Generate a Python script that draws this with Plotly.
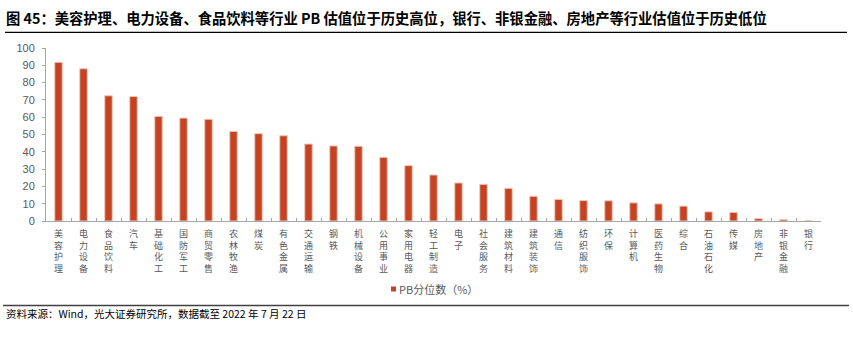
import plotly.graph_objects as go

# Shenwan level-1 industries and their PB percentile (%)
industries = [
    "美容护理", "电力设备", "食品饮料", "汽车", "基础化工", "国防军工", "商贸零售",
    "农林牧渔", "煤炭", "有色金属", "交通运输", "钢铁", "机械设备", "公用事业",
    "家用电器", "轻工制造", "电子", "社会服务", "建筑材料", "建筑装饰", "通信",
    "纺织服饰", "环保", "计算机", "医药生物", "综合", "石油石化", "传媒",
    "房地产", "非银金融", "银行",
]
pb_percentile = [
    91.7, 88.0, 72.4, 72.0, 60.5, 59.5, 58.8,
    51.8, 50.5, 49.3, 44.5, 43.4, 43.2, 36.8,
    32.0, 26.6, 22.0, 21.2, 18.9, 14.3, 12.5,
    11.8, 11.7, 10.5, 9.9, 8.6, 5.3, 5.0,
    1.4, 0.9, 0.2,
]
y_ticks = [0, 10, 20, 30, 40, 50, 60, 70, 80, 90, 100]

# category labels are written top-to-bottom, one character per line
vertical_labels = ["<br>".join(name) for name in industries]

series_name = "PB分位数（%）"
title_text = ("图 45：美容护理、电力设备、食品饮料等行业 PB 估值位于历史高位，"
              "银行、非银金融、房地产等行业估值位于历史低位")
source_text = "资料来源：Wind，光大证券研究所，数据截至 2022 年 7 月 22 日"

BAR = "#C44323"
GREY_TXT = "#595959"
AXIS = "#A6A6A6"
CJK = "Noto Sans CJK SC"
LATIN = "Liberation Sans, Noto Sans CJK SC"

W, H = 853, 338
L, R, T, B = 46, 821, 48, 221   # plot area in page pixels


def px(x):
    return (x - L) / (R - L)


def py(y):
    return (B - y) / (B - T)


fig = go.Figure()
fig.add_trace(go.Bar(
    x=industries, y=pb_percentile, width=0.3,
    marker=dict(color=BAR, line=dict(color="#F2C6BA", width=1)),
    showlegend=False, name=series_name,
))

annotations = []
shapes = []

# heading and its rule
annotations.append(dict(
    x=px(4), y=py(18), xref="paper", yref="paper", text=f"<b>{title_text}</b>",
    showarrow=False, xanchor="left", yanchor="middle",
    font=dict(family=CJK, size=14.3, color="#000000"),
))
shapes.append(dict(type="line", xref="paper", yref="paper",
                   x0=px(5), x1=px(847), y0=py(32.3), y1=py(32.3),
                   line=dict(color="#000000", width=1.3)))

# legend key
shapes.append(dict(type="rect", xref="paper", yref="paper",
                   x0=px(391), x1=px(396), y0=py(291.5), y1=py(286.5),
                   fillcolor=BAR, line=dict(width=0)))
annotations.append(dict(
    x=px(397), y=py(289), xref="paper", yref="paper", text=series_name,
    showarrow=False, xanchor="left", yanchor="middle",
    font=dict(family=CJK, size=11, color=GREY_TXT),
))

# footer rule and source note
shapes.append(dict(type="line", xref="paper", yref="paper",
                   x0=px(3), x1=px(849), y0=py(305.5), y1=py(305.5),
                   line=dict(color="#404040", width=1.5)))
annotations.append(dict(
    x=px(4), y=py(313.5), xref="paper", yref="paper", text=source_text,
    showarrow=False, xanchor="left", yanchor="middle",
    font=dict(family=CJK, size=10.5, color="#000000"),
))

fig.update_layout(
    width=W, height=H,
    margin=dict(l=L, r=W - R, t=T, b=H - B, pad=0),
    paper_bgcolor="white", plot_bgcolor="white",
    annotations=annotations, shapes=shapes,
    bargap=0.66,
)
fig.update_xaxes(
    type="category", tickmode="array", tickvals=industries, ticktext=vertical_labels,
    tickangle=0, showgrid=False, zeroline=False,
    showline=True, linecolor=AXIS, linewidth=1,
    ticks="inside", tickson="boundaries", ticklen=3, tickcolor=AXIS,
    ticklabelstandoff=4,
    tickfont=dict(family=CJK, size=9, color=GREY_TXT),
)
fig.update_yaxes(
    range=[0, 100], tickvals=y_ticks, showgrid=False, zeroline=False,
    showline=True, linecolor=AXIS, linewidth=1,
    ticks="outside", ticklen=3, tickcolor=AXIS, ticklabelstandoff=5,
    tickfont=dict(family=LATIN, size=11, color=GREY_TXT),
)

fig.write_html("out.html")
